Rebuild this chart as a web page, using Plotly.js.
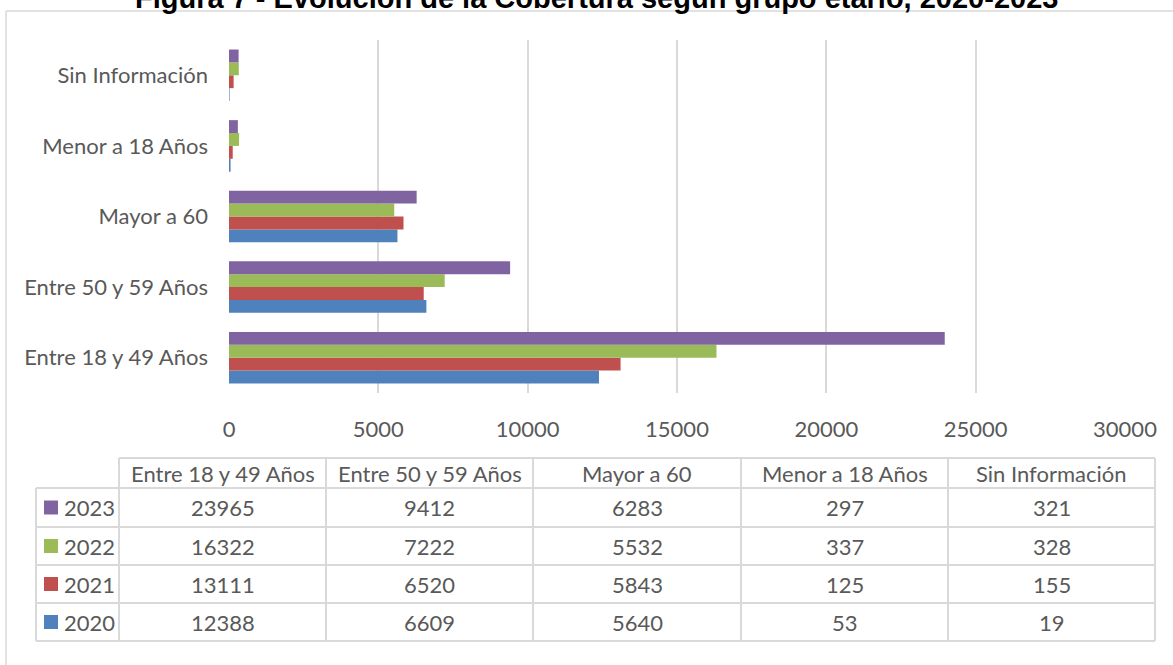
<!DOCTYPE html>
<html>
<head>
<meta charset="utf-8">
<script src="https://cdn.plot.ly/plotly-3.0.1.min.js"></script>
<style>
  html, body { margin: 0; padding: 0; background: #ffffff; }
  #chart { width: 1173px; height: 665px; }
</style>
</head>
<body>
<div id="chart"></div>
<script>
// Age groups, bottom to top on the chart
const categories = ['Entre 18 y 49 Años', 'Entre 50 y 59 Años', 'Mayor a 60', 'Menor a 18 Años', 'Sin Información'];
const years = ['2020', '2021', '2022', '2023'];
const v2020 = [12388, 6609, 5640, 53, 19];
const v2021 = [13111, 6520, 5843, 125, 155];
const v2022 = [16322, 7222, 5532, 337, 328];
const v2023 = [23965, 9412, 6283, 297, 321];
const xTicks = [0, 5000, 10000, 15000, 20000, 25000, 30000];
const titleText = 'Figura 7 - Evolución de la Cobertura según grupo etario, 2020-2023';

const seriesValues = [v2020, v2021, v2022, v2023];
const colors = ['#4F81BD', '#C0504D', '#9BBB59', '#8064A2'];

const W = 1173, H = 665;
const M = { l: 229, r: 48, t: 40, b: 272 };
const plotW = W - M.l - M.r, plotH = H - M.t - M.b;
// pixel -> paper coordinates
const px = x => (x - M.l) / plotW;
const py = y => (H - M.b - y) / plotH;

const FONT = 'Lato, "Open Sans", sans-serif';
const TXT = '#595959';
const GRID = '#d9d9d9';
const FS = 22;

const traces = years.map((yr, i) => ({
  type: 'bar',
  orientation: 'h',
  name: yr,
  y: categories,
  x: seriesValues[i],
  marker: { color: colors[i], line: { width: 0 } },
  hoverinfo: 'x+name'
}));

const shapes = [];
const annotations = [];

// outer frame
shapes.push({ type: 'line', xref: 'paper', yref: 'paper', x0: px(6), x1: px(W + 5), y0: py(11), y1: py(11), line: { color: GRID, width: 1.5 } });
shapes.push({ type: 'line', xref: 'paper', yref: 'paper', x0: px(6), x1: px(6), y0: py(11), y1: py(H + 5), line: { color: GRID, width: 1.5 } });

// title (runs past the top edge of the page)
annotations.push({
  xref: 'paper', yref: 'paper', x: px(596), y: py(9), xanchor: 'center', yanchor: 'bottom',
  yshift: -7,
  text: '<b>' + titleText + '</b>', showarrow: false,
  font: { family: 'Arial, "Liberation Sans", sans-serif', size: 29, color: '#000000' }
});

// data table under the chart
const colEdges = [119, 326, 533, 741, 948, 1155];
const labelLeft = 36;
const rowEdges = [458, 488, 527, 565, 603, 641];
const rowYears = years.slice().reverse();           // 2023 on top
const rowValues = seriesValues.slice().reverse();
const rowColors = colors.slice().reverse();
const lineStyle = { color: GRID, width: 2 };

// horizontal rules
shapes.push({ type: 'line', xref: 'paper', yref: 'paper', x0: px(colEdges[0]), x1: px(colEdges[5]), y0: py(rowEdges[0]), y1: py(rowEdges[0]), line: lineStyle });
for (let r = 1; r < rowEdges.length; r++) {
  shapes.push({ type: 'line', xref: 'paper', yref: 'paper', x0: px(labelLeft), x1: px(colEdges[5]), y0: py(rowEdges[r]), y1: py(rowEdges[r]), line: lineStyle });
}
// vertical rules
shapes.push({ type: 'line', xref: 'paper', yref: 'paper', x0: px(labelLeft), x1: px(labelLeft), y0: py(rowEdges[1]), y1: py(rowEdges[5]), line: lineStyle });
colEdges.forEach(x => {
  shapes.push({ type: 'line', xref: 'paper', yref: 'paper', x0: px(x), x1: px(x), y0: py(rowEdges[0]), y1: py(rowEdges[5]), line: lineStyle });
});

const cellFont = { family: FONT, size: FS, color: TXT };
// header row
categories.forEach((c, j) => {
  annotations.push({
    xref: 'paper', yref: 'paper', x: px((colEdges[j] + colEdges[j + 1]) / 2), y: py((rowEdges[0] + rowEdges[1]) / 2),
    xanchor: 'center', yanchor: 'middle', text: c, showarrow: false, font: cellFont
  });
});
// body rows
rowYears.forEach((yr, r) => {
  const yc = (rowEdges[r + 1] + rowEdges[r + 2]) / 2;
  shapes.push({ type: 'rect', xref: 'paper', yref: 'paper', x0: px(44), x1: px(58), y0: py(yc - 7), y1: py(yc + 7), fillcolor: rowColors[r], line: { width: 0 } });
  annotations.push({
    xref: 'paper', yref: 'paper', x: px(62), y: py(yc), xanchor: 'left', yanchor: 'middle',
    text: yr, showarrow: false, font: cellFont
  });
  rowValues[r].forEach((v, j) => {
    annotations.push({
      xref: 'paper', yref: 'paper', x: px((colEdges[j] + colEdges[j + 1]) / 2), y: py(yc),
      xanchor: 'center', yanchor: 'middle', text: String(v), showarrow: false, font: cellFont
    });
  });
});

const layout = {
  width: W, height: H,
  margin: M,
  paper_bgcolor: '#ffffff', plot_bgcolor: '#ffffff',
  showlegend: false,
  barmode: 'group',
  bargap: 0.27,
  bargroupgap: 0,
  xaxis: {
    range: [0, 30000], tickvals: xTicks, ticktext: xTicks.map(String),
    showgrid: true, gridcolor: GRID, gridwidth: 2,
    zeroline: false, showline: false, ticks: '',
    ticklabelstandoff: 21,
    tickfont: { family: FONT, size: FS, color: TXT },
    fixedrange: true
  },
  yaxis: {
    type: 'category', categoryorder: 'array', categoryarray: categories,
    showgrid: false, zeroline: false, showline: false, ticks: '',
    ticklabelstandoff: 20,
    tickfont: { family: FONT, size: FS, color: TXT },
    fixedrange: true
  },
  shapes: shapes,
  annotations: annotations
};

Plotly.newPlot('chart', traces, layout, { displayModeBar: false, staticPlot: true });
</script>
</body>
</html>
